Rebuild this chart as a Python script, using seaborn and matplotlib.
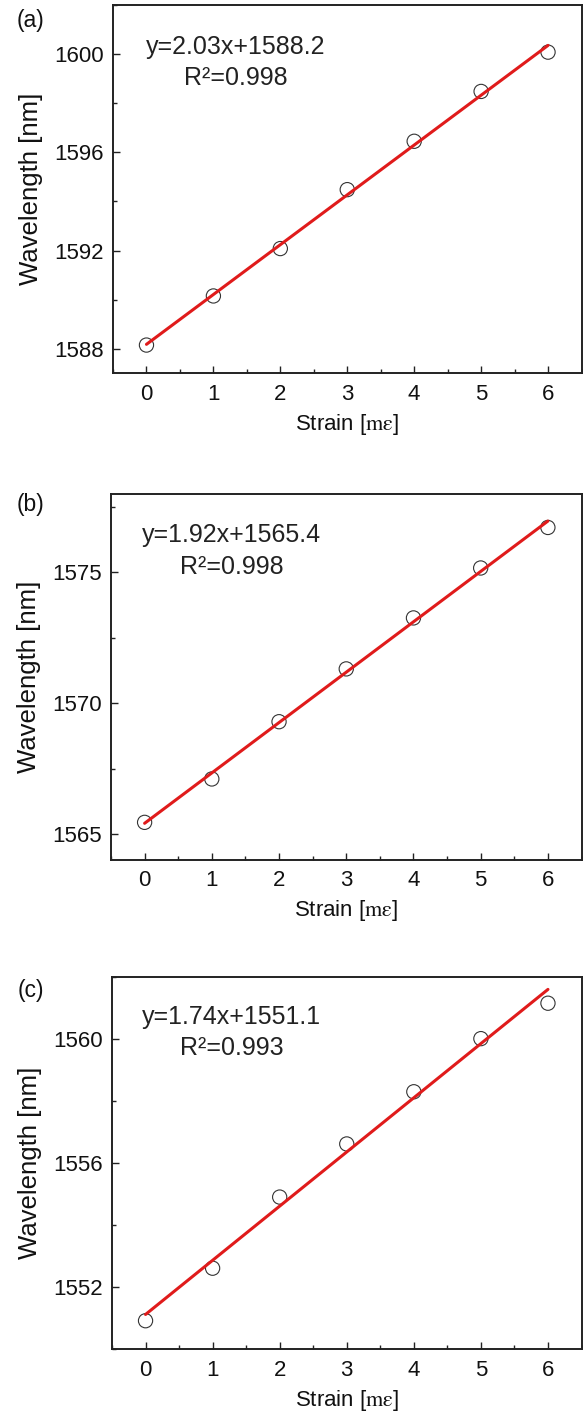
import numpy as np
import matplotlib
matplotlib.use("Agg")
import matplotlib.pyplot as plt
from matplotlib.ticker import MultipleLocator
import seaborn as sns

# ---- data ----
strain = [0, 1, 2, 3, 4, 5, 6]
wl_a = [1588.15, 1590.15, 1592.08, 1594.48, 1596.45, 1598.48, 1600.08]
wl_b = [1565.44, 1567.10, 1569.29, 1571.31, 1573.26, 1575.17, 1576.72]
wl_c = [1550.92, 1552.61, 1554.90, 1556.61, 1558.29, 1560.00, 1561.14]
eq_a = ["y=2.03x+1588.2", "R²=0.998"]
eq_b = ["y=1.92x+1565.4", "R²=0.998"]
eq_c = ["y=1.74x+1551.1", "R²=0.993"]
panel_labels = ["(a)", "(b)", "(c)"]
ylims = [(1587, 1602), (1564, 1578), (1550, 1562)]
ymajor = [4, 5, 4]
yminor = [2, 2.5, 2]

sns.set_theme(style="ticks")
plt.rcParams["font.family"] = ["Liberation Sans", "DejaVu Sans"]
plt.rcParams["mathtext.fontset"] = "stix"

W, H = 583, 1419
fig = plt.figure(figsize=(W / 100, H / 100), dpi=100)

# axes boxes in pixels: left, top, right, bottom
boxes = [(113, 5, 581.5, 373.3), (111, 494, 581.5, 860), (112, 976.5, 581.5, 1349.3)]
label_y = [21, 505, 990]
eq_pos = [(0.2625, 0.887, 0.802), (0.256, 0.888, 0.801), (0.255, 0.892, 0.807)]

red = "#e01b1b"
for i, (wl, eq) in enumerate(zip([wl_a, wl_b, wl_c], [eq_a, eq_b, eq_c])):
    l, t, r, b = boxes[i]
    ax = fig.add_axes([l / W, 1 - b / H, (r - l) / W, (b - t) / H])
    sns.regplot(x=strain, y=wl, ax=ax, ci=None, marker="o",
                scatter_kws=dict(s=105, facecolors="none", edgecolors="#333333",
                                 linewidths=0.8, alpha=1, zorder=2),
                line_kws=dict(color=red, lw=2.2, zorder=3))
    ax.set_xlim(-0.5, 6.5)
    ax.set_ylim(*ylims[i])
    ax.xaxis.set_major_locator(MultipleLocator(1))
    ax.xaxis.set_minor_locator(MultipleLocator(0.5))
    ax.yaxis.set_major_locator(MultipleLocator(ymajor[i]))
    ax.yaxis.set_minor_locator(MultipleLocator(yminor[i]))
    ax.tick_params(which="both", direction="in", color="#222222", width=1.0,
                   labelsize=16, labelcolor="#111111")
    ax.tick_params(which="major", length=5.3)
    ax.tick_params(which="minor", length=3)
    ax.tick_params(axis="x", which="major", pad=7.5)
    ax.tick_params(axis="y", which="major", pad=6.5)
    for s in ax.spines.values():
        s.set_visible(True)
        s.set_linewidth(1.4)
        s.set_color("#222222")
    ax.set_xlabel(r"Strain [$\mathrm{m\varepsilon}$]", fontsize=16, labelpad=5, color="#111111")
    ax.set_ylabel("Wavelength [nm]", fontsize=18.5, labelpad=8, color="#111111")
    ex, ey1, ey2 = eq_pos[i]
    ax.text(ex, ey1, eq[0], transform=ax.transAxes, ha="center", va="center",
            fontsize=18, color="#222222")
    ax.text(ex, ey2, eq[1], transform=ax.transAxes, ha="center", va="center",
            fontsize=18, color="#222222")
    fig.text(31 / W, 1 - label_y[i] / H, panel_labels[i], ha="center", va="center",
             fontsize=16.5, color="#111111")

fig.savefig("out.png", dpi=100, facecolor="white")
